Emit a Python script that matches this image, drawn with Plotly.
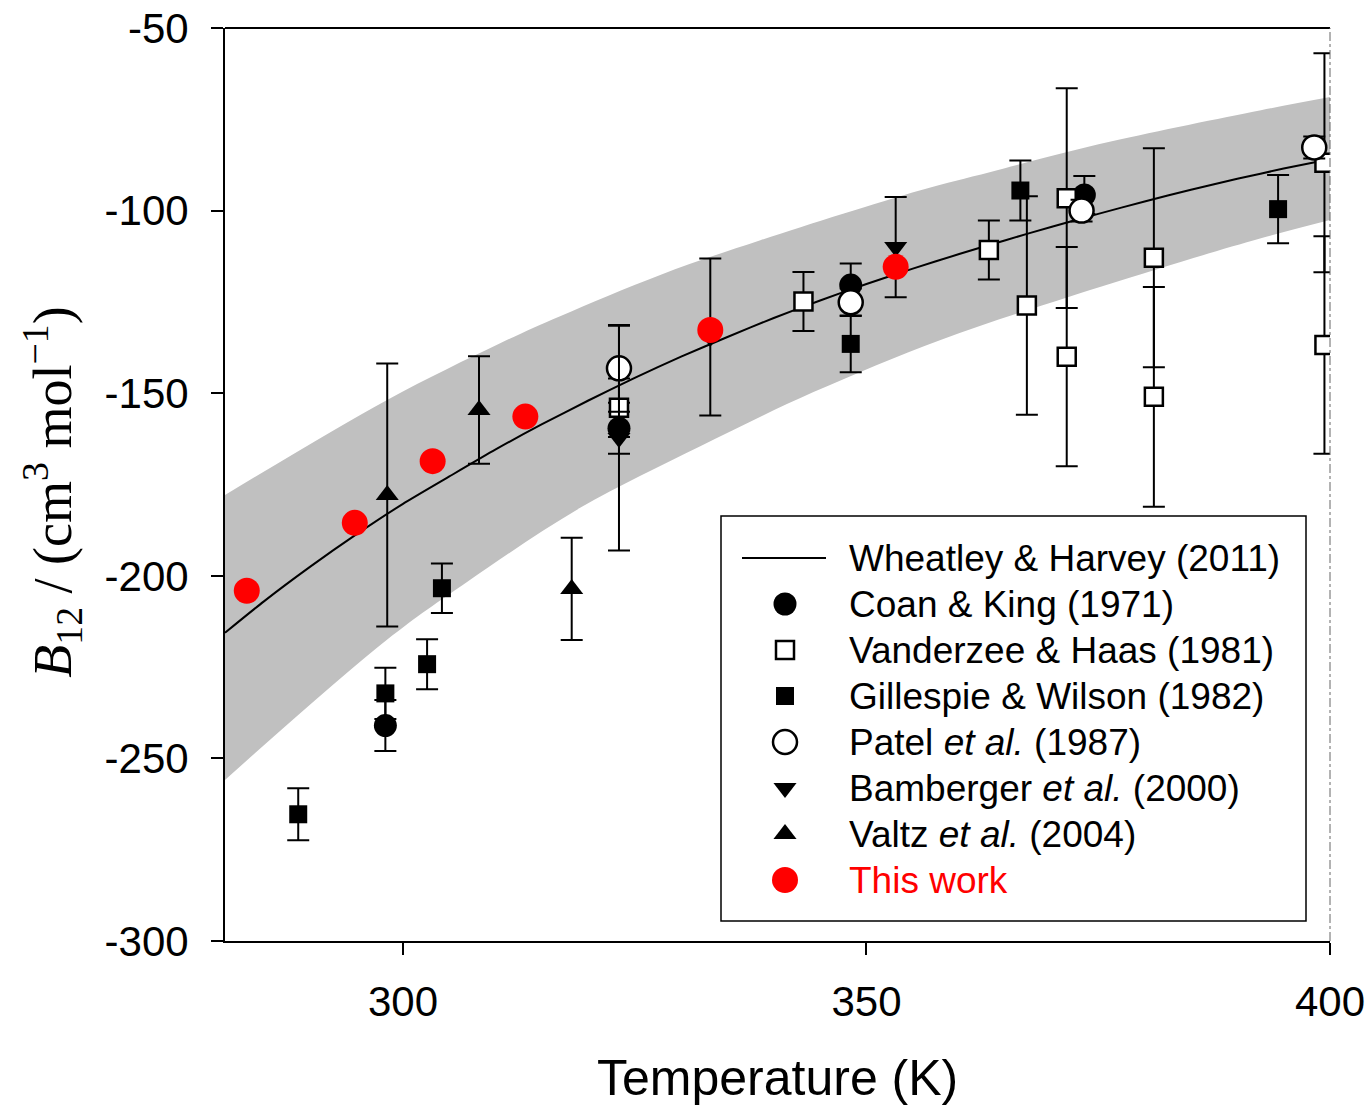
import plotly.graph_objects as go

# ---------------- data ----------------
# Wheatley & Harvey (2011) correlation curve
wh_T = [280.8, 285, 290, 295, 300, 305, 310, 315, 320, 325, 330, 335, 340,
        345, 350, 355, 360, 365, 370, 375, 380, 385, 390, 395, 400]
wh_B = [-215.6, -207.0, -197.5, -188.6, -180.3, -172.8, -165.4, -158.5, -152.0,
        -145.8, -140.0, -134.6, -129.4, -124.6, -120.1, -115.9, -111.9, -108.1,
        -104.4, -100.9, -97.5, -94.3, -91.3, -88.5, -85.9]

# uncertainty band edges
band_up_T = [280.8, 298.24, 310.48, 316.95, 327.75, 338.55, 355.83, 363.39, 376.35, 392.55, 400.0]
band_up_B = [-177.9, -151.9, -136.3, -128.9, -117.6, -108.1, -94.4, -89.4, -81.1, -72.5, -68.9]
band_lo_T = [280.8, 298.24, 306.91, 319.11, 332.07, 344.28, 357.99, 371.71, 380.99, 392.55, 400.0]
band_lo_B = [-255.9, -217.6, -201.7, -181.4, -164.5, -149.7, -135.4, -123.7, -116.3, -107.6, -102.6]

# Coan & King (1971)
ck_T = [298.1, 323.3, 348.3, 373.5]
ck_B = [-241.0, -159.6, -120.4, -95.7]
ck_e = [7.0, 7.0, 5.9, 5.2]

# Vanderzee & Haas (1981)
vh_T = [323.3, 343.2, 363.2, 367.3, 371.6, 371.6, 381.0, 381.0, 399.4, 399.4]
vh_B = [-154.0, -124.9, -110.8, -126.0, -96.6, -140.0, -112.9, -151.0, -86.9, -136.8]
vh_e = [8.0, 8.1, 8.1, 29.9, 30.1, 30.0, 30.0, 30.1, 30.0, 29.8]

# Gillespie & Wilson (1982)
gw_T = [288.7, 298.1, 302.6, 304.2, 348.3, 366.6, 394.4]
gw_B = [-265.3, -232.2, -224.2, -203.4, -136.5, -94.5, -99.6]
gw_e = [7.1, 7.0, 6.85, 6.8, 7.75, 8.2, 9.35]

# Patel et al. (1987)
pa_T = [323.3, 348.3, 373.2, 398.3]
pa_B = [-143.2, -125.1, -100.0, -82.7]
pa_e = [11.9, 3.75, 3.0, 3.0]

# Bamberger et al. (2000)
ba_T = [323.3, 333.15, 353.15]
ba_B = [-162.3, -134.6, -110.0]
ba_e = [30.8, 21.5, 13.7]

# Valtz et al. (2004)
va_T = [298.3, 308.2, 318.2]
va_B = [-177.9, -154.6, -203.6]
va_e = [36.0, 14.7, 14.0]

# This work
tw_T = [283.15, 294.8, 303.2, 313.2, 333.15, 353.15]
tw_B = [-204.1, -185.5, -168.6, -156.4, -132.7, -115.4]

x_tick_vals = [300, 350, 400]
x_tick_text = ["300", "350", "400"]
y_tick_vals = [-300, -250, -200, -150, -100, -50]
y_tick_text = ["-300", "-250", "-200", "-150", "-100", "-50"]

legend_labels = [
    "Wheatley &amp; Harvey (2011)",
    "Coan &amp; King (1971)",
    "Vanderzee &amp; Haas (1981)",
    "Gillespie &amp; Wilson (1982)",
    "Patel <i>et al.</i> (1987)",
    "Bamberger <i>et al.</i> (2000)",
    "Valtz <i>et al.</i> (2004)",
    "This work",
]

# ---------------- styles ----------------
SANS = "Liberation Sans, Arial, sans-serif"
SERIF = "Liberation Serif, Times New Roman, serif"

styles = [
    dict(symbol="circle", size=23, color="black", line=dict(width=0)),
    dict(symbol="square", size=18, color="white", line=dict(width=2.5, color="black")),
    dict(symbol="square", size=18, color="black", line=dict(width=0)),
    dict(symbol="circle", size=24, color="white", line=dict(width=2.5, color="black")),
    dict(symbol="triangle-down", size=20, color="black", line=dict(width=0)),
    dict(symbol="triangle-up", size=20, color="black", line=dict(width=0)),
    dict(symbol="circle", size=26, color="red", line=dict(width=0)),
]
label_colors = ["black"] * 7 + ["red"]

fig = go.Figure()

# grey band: lower edge, then upper edge filled down to it
fig.add_trace(go.Scatter(
    x=band_lo_T, y=band_lo_B, mode="lines",
    line=dict(width=0, color="#c0c0c0", shape="spline", smoothing=1.0),
    showlegend=False, hoverinfo="skip"))
fig.add_trace(go.Scatter(
    x=band_up_T, y=band_up_B, mode="lines", fill="tonexty", fillcolor="#c0c0c0",
    line=dict(width=0, color="#c0c0c0", shape="spline", smoothing=1.0),
    showlegend=False, hoverinfo="skip"))

fig.add_trace(go.Scatter(
    x=wh_T, y=wh_B, mode="lines",
    line=dict(color="black", width=2, shape="spline", smoothing=0.6),
    showlegend=False, hoverinfo="skip"))

def err(arr):
    return dict(type="data", array=arr, visible=True, color="black", thickness=2, width=11)

series = [(ck_T, ck_B, ck_e), (vh_T, vh_B, vh_e), (gw_T, gw_B, gw_e),
          (pa_T, pa_B, pa_e), (ba_T, ba_B, ba_e), (va_T, va_B, va_e),
          (tw_T, tw_B, None)]
for (xs, ys, es), st, lab in zip(series, styles, legend_labels[1:]):
    fig.add_trace(go.Scatter(
        x=xs, y=ys, mode="markers", name=lab, marker=st,
        error_y=err(es) if es is not None else None, showlegend=False))

# ---------------- custom legend (overlay axis in figure pixels) ----------------
LEG_LEFT, LEG_TOP, LEG_RIGHT, LEG_BOTTOM = 721, 516, 1306, 921
ROW0, ROW_STEP = 558, 46
SYM_X, TXT_X = 785, 847

shapes = [
    dict(type="line", xref="paper", yref="paper", x0=0, x1=1, y0=1, y1=1,
         line=dict(color="black", width=2)),
    dict(type="line", xref="paper", yref="paper", x0=1, x1=1, y0=0, y1=1,
         line=dict(color="#666666", width=1, dash="dashdot")),
    dict(type="rect", xref="x2", yref="y2", x0=LEG_LEFT, x1=LEG_RIGHT,
         y0=LEG_TOP, y1=LEG_BOTTOM, line=dict(color="black", width=1.5),
         fillcolor="white", layer="below"),
    dict(type="line", xref="x2", yref="y2", x0=742, x1=826, y0=ROW0, y1=ROW0,
         line=dict(color="black", width=2)),
]

for i, st in enumerate(styles):
    fig.add_trace(go.Scatter(
        x=[SYM_X], y=[ROW0 + ROW_STEP * (i + 1)], mode="markers", marker=st,
        xaxis="x2", yaxis="y2", showlegend=False, hoverinfo="skip"))

annotations = [
    dict(text="Temperature (K)", x=0.5, y=-0.150, xref="paper", yref="paper",
         xanchor="center", yanchor="middle", showarrow=False,
         font=dict(family=SANS, size=50)),
    dict(text="<i>B</i><sub>12</sub> / (cm<sup>3</sup> mol<sup>\u22121</sup>)",
         x=-0.1566, y=0.492, xref="paper", yref="paper", textangle=-90,
         xanchor="center", yanchor="middle", showarrow=False,
         font=dict(family=SERIF, size=54)),
]
for i, (lab, col) in enumerate(zip(legend_labels, label_colors)):
    annotations.append(dict(
        text=lab, x=TXT_X, y=ROW0 + ROW_STEP * i, xref="x2", yref="y2",
        xanchor="left", yanchor="middle", showarrow=False,
        font=dict(family=SANS, size=37, color=col)))

fig.update_layout(
    width=1370, height=1105,
    margin=dict(l=225, r=40, t=28, b=164),
    paper_bgcolor="white", plot_bgcolor="white",
    font=dict(family=SANS, color="black"),
    showlegend=False,
    xaxis=dict(range=[280.8, 400], showgrid=False, zeroline=False, automargin=False,
               showline=True, linecolor="black", linewidth=2,
               ticks="outside", ticklen=12, tickwidth=2, tickcolor="black",
               tickvals=x_tick_vals, ticktext=x_tick_text,
               tickfont=dict(family=SANS, size=42), ticklabelstandoff=11),
    yaxis=dict(range=[-300, -50], showgrid=False, zeroline=False, automargin=False,
               showline=True, linecolor="black", linewidth=2,
               ticks="outside", ticklen=12, tickwidth=2, tickcolor="black",
               tickvals=y_tick_vals, ticktext=y_tick_text,
               tickfont=dict(family=SANS, size=42), ticklabelstandoff=14),
    xaxis2=dict(overlaying="x", range=[225, 1330], visible=False, automargin=False,
                fixedrange=True),
    yaxis2=dict(overlaying="y", range=[941, 28], visible=False, automargin=False,
                fixedrange=True),
    annotations=annotations,
    shapes=shapes,
)

fig.write_html("out.html")
